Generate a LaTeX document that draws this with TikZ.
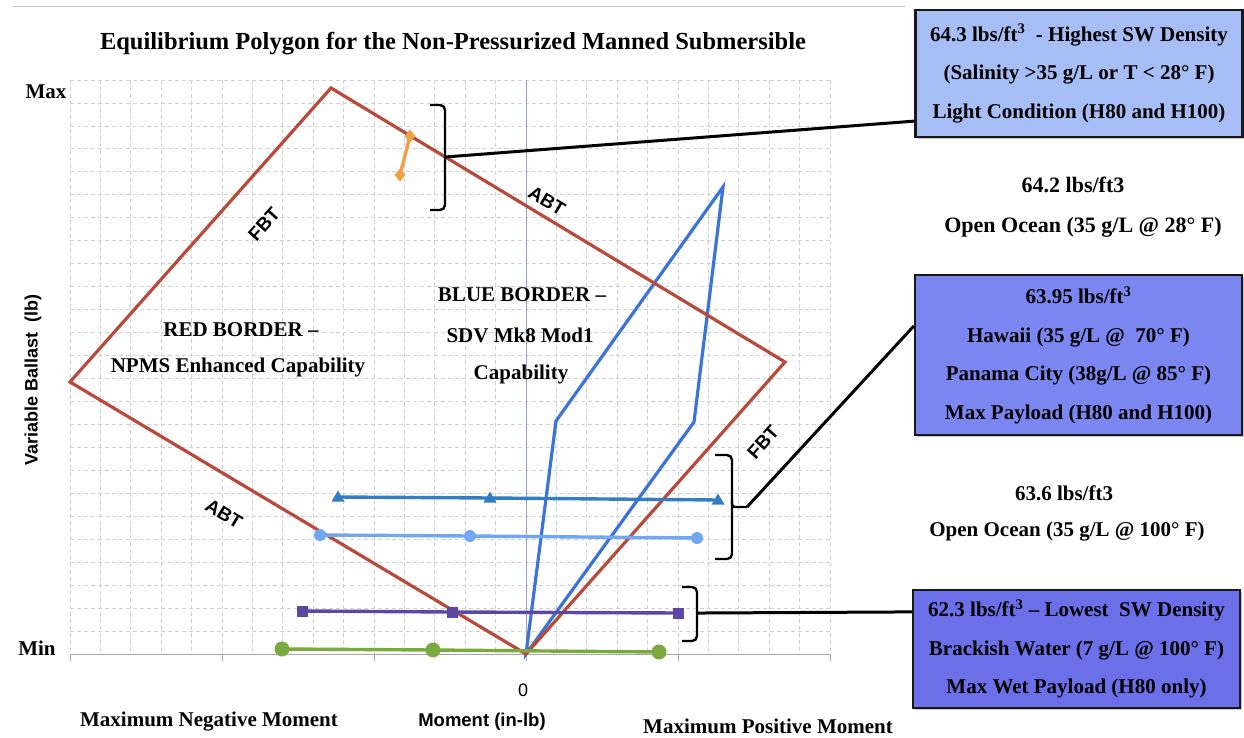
\documentclass[tikz,border=0pt]{standalone}
\usepackage{fontspec}
\setmainfont{Liberation Serif}
\setsansfont{Liberation Sans}
\usetikzlibrary{shadows,calc}
\definecolor{redpoly}{RGB}{183,74,58}
\definecolor{bluepoly}{RGB}{58,115,218}
\definecolor{orangeln}{RGB}{240,160,70}
\definecolor{tealln}{RGB}{52,125,192}
\definecolor{lightln}{RGB}{112,166,242}
\definecolor{purpleln}{RGB}{92,72,162}
\definecolor{greenln}{RGB}{122,170,62}
\definecolor{boxa}{RGB}{166,189,245}
\definecolor{boxb}{RGB}{124,134,240}
\definecolor{boxc}{RGB}{108,112,232}
\definecolor{gridc}{RGB}{208,208,215}
\definecolor{axisc}{RGB}{150,160,200}
\begin{document}
\begin{tikzpicture}[x=1pt,y=-1pt,
  gridline/.style={draw=gridc, line width=0.8pt, dash pattern=on 4pt off 3pt},
  serifb/.style={font=\bfseries\fontsize{21}{25}\selectfont, inner sep=0pt},
  sansb/.style={font=\sffamily\bfseries\fontsize{18}{22}\selectfont, inner sep=0pt},
  edgelab/.style={font=\sffamily\bfseries\fontsize{19}{22}\selectfont, inner sep=0pt},
  polyline/.style={line width=3.2pt, line join=miter},
  dataline/.style={line width=3.4pt},
  infobox/.style={draw=black!90, line width=2.2pt, align=center, inner sep=0pt,
    minimum width=327pt, font=\bfseries\fontsize{21}{38.5}\selectfont,
    drop shadow={opacity=0.45, shadow xshift=2pt, shadow yshift=-2pt}},
  conn/.style={draw=black, line width=3pt},
  bracketln/.style={draw=black, line width=2.4pt, rounded corners=5pt}
]
\useasboundingbox (0,0) rectangle (1244,738);
\fill[white] (0,0) rectangle (1244,738);
% faint page line
\draw[gray!50, line width=0.8pt] (13,6) -- (905,6);

% grid
\foreach \k in {0,...,24} { \draw[gridline] (70,{80+\k*22.96}) -- (830,{80+\k*22.96}); }
\foreach \k in {0,...,25} { \draw[gridline] ({70+\k*30.4},80) -- ({70+\k*30.4},654); }
% axes
\draw[axisc, line width=0.9pt] (526,80) -- (526,654);
\draw[gray!70, line width=0.9pt] (70,654) -- (830,654);
\foreach \k in {0,...,5} { \draw[gray!70, line width=0.9pt] ({70+\k*152},654) -- ({70+\k*152},661); }

% polygon vertices
\coordinate (rt) at (331,88);
\coordinate (rr) at (785,362);
\coordinate (rb) at (526,654);
\coordinate (rl) at (70,382);
\coordinate (b1) at (556,421);
\coordinate (b2) at (723,187);
\coordinate (b3) at (694,422);

% data points
\coordinate (o1) at (410,136);
\coordinate (o2) at (400,175);
\coordinate (t1) at (338,497);
\coordinate (t2) at (490,498);
\coordinate (t3) at (718,500);
\coordinate (l1) at (320,535);
\coordinate (l2) at (470,536);
\coordinate (l3) at (697,538);
\coordinate (p1) at (302,611);
\coordinate (p2) at (452,612);
\coordinate (p3) at (678,613);
\coordinate (g1) at (282,649);
\coordinate (g2) at (433,650);
\coordinate (g3) at (659,652);

\draw[polyline, draw=bluepoly] (rb) -- (b1) -- (b2) -- (b3) -- cycle;
\draw[polyline, draw=redpoly] (rt) -- (rr) -- (rb) -- (rl) -- cycle;

\draw[dataline, tealln] (t1) -- (t2) -- (t3);
\foreach \p in {t1,t2,t3} { \fill[tealln] ($(\p)+(0,-6.5)$) -- ($(\p)+(6.5,4.5)$) -- ($(\p)+(-6.5,4.5)$) -- cycle; }
\draw[dataline, lightln] (l1) -- (l2) -- (l3);
\foreach \p in {l1,l2,l3} { \fill[lightln] (\p) circle (6pt); }
\draw[dataline, purpleln] (p1) -- (p2) -- (p3);
\foreach \p in {p1,p2,p3} { \fill[purpleln] ($(\p)+(-5.5,-5.5)$) rectangle ($(\p)+(5.5,5.5)$); }
\draw[dataline, greenln] (g1) -- (g2) -- (g3);
\foreach \p in {g1,g2,g3} { \fill[greenln] (\p) circle (7.5pt); }
\draw[dataline, orangeln] (o1) -- (o2);
\foreach \p in {o1,o2} { \fill[orangeln] ($(\p)+(0,-6.5)$) -- ($(\p)+(5.5,0)$) -- ($(\p)+(0,6.5)$) -- ($(\p)+(-5.5,0)$) -- cycle; }

% edge labels
\node[edgelab, rotate=48] (fbt1) at (264,224) {FBT};
\node[edgelab, rotate=-31] (abt1) at (547,201) {ABT};
\node[edgelab, rotate=48] (fbt2) at (763,442) {FBT};
\node[edgelab, rotate=-31] (abt2) at (224,514) {ABT};

% texts in plot
\node[serifb] (red1) at (241,330) {RED BORDER --};
\node[serifb] (red2) at (238,367) {NPMS Enhanced Capability};
\node[serifb] (blue1) at (522,295) {BLUE BORDER --};
\node[serifb] (blue2) at (520,335) {SDV Mk8 Mod1};
\node[serifb] (blue3) at (521,374) {Capability};

% title and axes labels
\node[serifb, font=\bfseries\fontsize{24.5}{28}\selectfont] (title) at (453,44) {Equilibrium Polygon for the Non-Pressurized Manned Submersible};
\node[serifb] (max) at (46,92) {Max};
\node[serifb] (min) at (37,648) {Min};
\node[sansb, rotate=90] (yl) at (33,380) {Variable Ballast\ \ (lb)};
\node[font=\sffamily\fontsize{18}{20}\selectfont, inner sep=0pt] (zero) at (523,690) {0};
\node[serifb] (xneg) at (209,722) {Maximum Negative Moment};
\node[sansb, font=\sffamily\bfseries\fontsize{18.5}{22}\selectfont] (xl) at (482,722) {Moment (in-lb)};
\node[serifb] (xpos) at (768,726) {Maximum Positive Moment};

% info boxes
\node[infobox, fill=boxa, minimum height=127pt] (box1) at (1079,73.5)
  {64.3 lbs/ft\textsuperscript{3}\ \ - Highest SW Density\\(Salinity >35 g/L or T < 28° F)\\Light Condition (H80 and H100)};
\node[serifb, font=\bfseries\fontsize{22}{26}\selectfont] (oo1a) at (1073,185) {64.2 lbs/ft3};
\node[serifb, font=\bfseries\fontsize{22}{26}\selectfont] (oo1b) at (1083,227) {Open Ocean (35 g/L @ 28° F)};
\node[infobox, fill=boxb, minimum height=160pt] (box2) at (1078.5,355)
  {63.95 lbs/ft\textsuperscript{3}\\Hawaii (35 g/L @\ \ 70° F)\\Panama City (38g/L @ 85° F)\\Max Payload (H80 and H100)};
\node[serifb] (oo2a) at (1064,493) {63.6 lbs/ft3};
\node[serifb] (oo2b) at (1067,532) {Open Ocean (35 g/L @ 100° F)};
\node[infobox, fill=boxc, minimum height=118pt] (box3) at (1076.5,649)
  {62.3 lbs/ft\textsuperscript{3} -- Lowest\ \ SW Density\\Brackish Water (7 g/L @ 100° F)\\Max Wet Payload (H80 only)};

% brackets and connectors
\coordinate (k1a) at (430,105);
\coordinate (k1m) at (445,157);
\coordinate (k1b) at (430,210);
\draw[bracketln] (k1a) -- (445,105) -- (445,210) -- (k1b);
\draw[conn] (k1m) -- ($(box1.south west)+(0,-17)$);

\coordinate (k2a) at (715,455);
\coordinate (k2m) at (747,507);
\coordinate (k2b) at (715,559);
\draw[bracketln] (k2a) -- (732,455) -- (732,559) -- (k2b);
\draw[bracketln, rounded corners=3pt] (732,500) -- (732,507) -- (k2m);
\draw[conn] (k2m) -- ($(box2.north west)+(0,52)$);

\coordinate (k3a) at (682,587);
\coordinate (k3m) at (705,613);
\coordinate (k3b) at (682,641);
\draw[bracketln] (k3a) -- (697,587) -- (697,641) -- (k3b);
\draw[conn] (697,613) -- (k3m) -- ($(box3.north west)+(0,23)$);
\end{tikzpicture}
\end{document}
